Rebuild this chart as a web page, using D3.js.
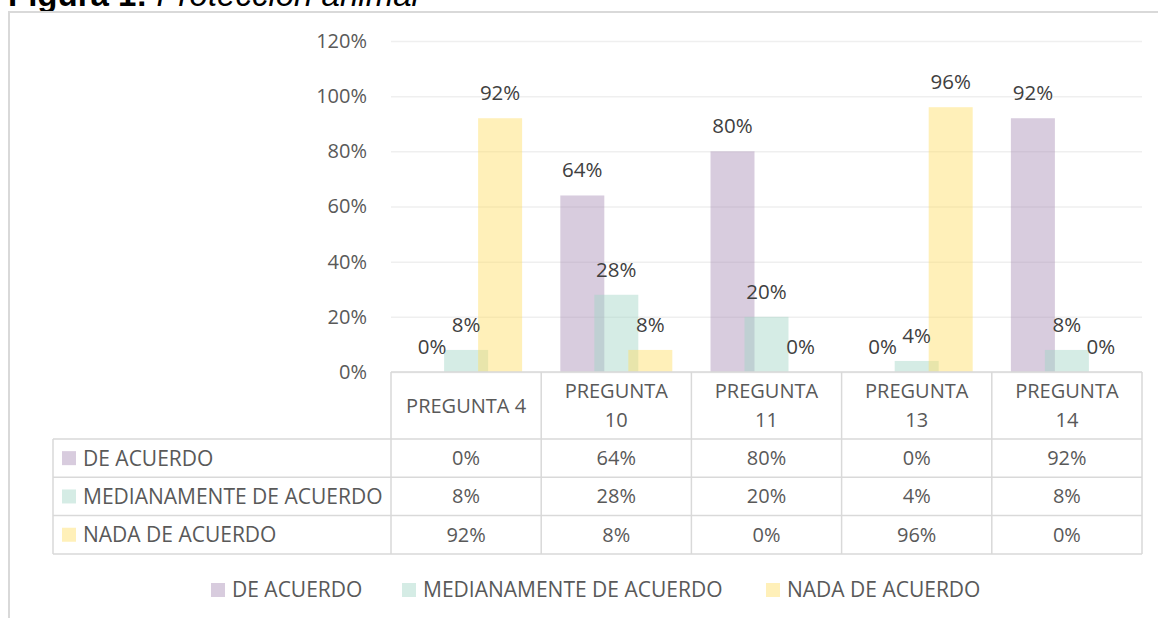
<!DOCTYPE html>
<html>
<head>
<meta charset="utf-8">
<script src="https://cdn.jsdelivr.net/npm/d3@7"></script>
<style>
  body { margin: 0; background: #fff; }
  svg { display: block; }
</style>
</head>
<body>
<div id="chart"></div>
<script>
// datos de la figura
const preguntas = ['PREGUNTA 4', 'PREGUNTA 10', 'PREGUNTA 11', 'PREGUNTA 13', 'PREGUNTA 14'];
const series = ['DE ACUERDO', 'MEDIANAMENTE DE ACUERDO', 'NADA DE ACUERDO'];
const deAcuerdo = [0, 0.64, 0.80, 0, 0.92];
const medianamente = [0.08, 0.28, 0.20, 0.04, 0.08];
const nada = [0.92, 0.08, 0, 0.96, 0];
const yTicks = [0, 0.2, 0.4, 0.6, 0.8, 1.0, 1.2];

const valores = [deAcuerdo, medianamente, nada];
const colores = ['#a88eb6', '#a2d5c5', '#ffde63'];

var width = 1158, height = 618;
var plotLeft = 391, plotRight = 1142, plotTop = 41, plotBottom = 372;
var font = "'Open Sans', sans-serif";

var svg = d3.select('#chart').append('svg')
  .attr('width', width)
  .attr('height', height);

// titulo (cortado arriba como en la imagen)
var title = svg.append('text')
  .attr('x', 8).attr('y', 6)
  .style('font-family', 'Arial, "Liberation Sans", sans-serif')
  .style('font-size', '33px')
  .attr('fill', '#000');
title.append('tspan').style('font-weight', 'bold').text('Figura 1: ');
title.append('tspan').style('font-style', 'italic').text('Protección animal');

// marco
svg.append('rect')
  .attr('x', 9).attr('y', 12).attr('width', width).attr('height', height)
  .attr('fill', '#fff')
  .attr('stroke', '#d9d9d9')
  .attr('stroke-width', 2);

var x = d3.scaleBand().domain(preguntas).range([plotLeft, plotRight]).padding(0);
var x1 = d3.scalePoint().domain(series).range([-34, 34]);
var barW = 44;
var y = d3.scaleLinear().domain([0, 1.2]).range([plotBottom, plotTop]);

// grid + eje y
var yAxis = svg.append('g')
  .attr('transform', 'translate(' + plotLeft + ',0)')
  .call(d3.axisLeft(y).tickValues(yTicks).tickFormat(d3.format('.0%'))
    .tickSize(-(plotRight - plotLeft)).tickPadding(24));
yAxis.select('.domain').remove();
yAxis.selectAll('line').attr('stroke', '#efefef').attr('stroke-width', 1.5);
yAxis.selectAll('text')
  .attr('fill', '#595959')
  .style('font-family', font)
  .style('font-size', '20px');

// barras
series.forEach(function (s, i) {
  svg.append('g').selectAll('rect')
    .data(valores[i])
    .enter().append('rect')
    .attr('x', function (d, j) { return x(preguntas[j]) + x.bandwidth() / 2 + x1(s) - barW / 2; })
    .attr('y', function (d) { return y(d); })
    .attr('width', barW)
    .attr('height', function (d) { return y(0) - y(d); })
    .attr('fill', colores[i])
    .attr('fill-opacity', 0.45);
});

// etiquetas de datos
series.forEach(function (s, i) {
  svg.append('g').selectAll('text')
    .data(valores[i])
    .enter().append('text')
    .attr('x', function (d, j) { return x(preguntas[j]) + x.bandwidth() / 2 + x1(s); })
    .attr('y', function (d) { return y(d) - 18; })
    .attr('text-anchor', 'middle')
    .attr('fill', '#404040')
    .style('font-family', font)
    .style('font-size', '20.5px')
    .text(function (d) { return d3.format('.0%')(d); });
});

// tabla de datos
var headTop = plotBottom, headBottom = 439, rowH = 38.3;
var tableLeft = 53;
var tbl = svg.append('g');
var lineColor = '#d9d9d9';

function hline(x0, x1_, yy) {
  tbl.append('line').attr('x1', x0).attr('x2', x1_).attr('y1', yy).attr('y2', yy)
    .attr('stroke', lineColor).attr('stroke-width', 1.5);
}
function vline(xx, y0, y1) {
  tbl.append('line').attr('x1', xx).attr('x2', xx).attr('y1', y0).attr('y2', y1)
    .attr('stroke', lineColor).attr('stroke-width', 1.5);
}

var tableBottom = headBottom + rowH * series.length;
hline(plotLeft, plotRight, headTop);
for (var r = 0; r <= series.length; r++) {
  hline(tableLeft, plotRight, headBottom + r * rowH);
}
vline(tableLeft, headBottom, tableBottom);
preguntas.forEach(function (p) { vline(x(p), headTop, tableBottom); });
vline(plotRight, headTop, tableBottom);

// encabezados
preguntas.forEach(function (p) {
  var cx = x(p) + x.bandwidth() / 2;
  var parts = p === 'PREGUNTA 4' ? [p] : p.split(' ');
  var t = tbl.append('text')
    .attr('text-anchor', 'middle')
    .attr('fill', '#595959')
    .style('font-family', font)
    .style('font-size', '20px');
  var lh = 28.5;
  var y0 = (headTop + headBottom) / 2 - (parts.length - 1) * lh / 2;
  parts.forEach(function (pt, k) {
    t.append('tspan').attr('x', cx).attr('y', y0 + k * lh).attr('dy', '0.35em').text(pt);
  });
});

// filas
series.forEach(function (s, i) {
  var cy = headBottom + rowH * i + rowH / 2;
  tbl.append('rect')
    .attr('x', tableLeft + 9).attr('y', cy - 7)
    .attr('width', 14).attr('height', 14)
    .attr('fill', colores[i]).attr('fill-opacity', 0.45);
  tbl.append('text')
    .attr('x', tableLeft + 30).attr('y', cy).attr('dy', '0.35em')
    .attr('fill', '#595959')
    .style('font-family', font)
    .style('font-size', '21px')
    .text(s);
  valores[i].forEach(function (v, j) {
    tbl.append('text')
      .attr('x', x(preguntas[j]) + x.bandwidth() / 2).attr('y', cy).attr('dy', '0.35em')
      .attr('text-anchor', 'middle')
      .attr('fill', '#595959')
      .style('font-family', font)
      .style('font-size', '20px')
      .text(d3.format('.0%')(v));
  });
});

// leyenda
var legX = [211, 402, 766];
var legend = svg.append('g');
series.forEach(function (s, i) {
  legend.append('rect')
    .attr('x', legX[i]).attr('y', 583)
    .attr('width', 14).attr('height', 14)
    .attr('fill', colores[i]).attr('fill-opacity', 0.45);
  legend.append('text')
    .attr('x', legX[i] + 21).attr('y', 590).attr('dy', '0.35em')
    .attr('fill', '#595959')
    .style('font-family', font)
    .style('font-size', '21px')
    .text(s);
});
</script>
</body>
</html>
